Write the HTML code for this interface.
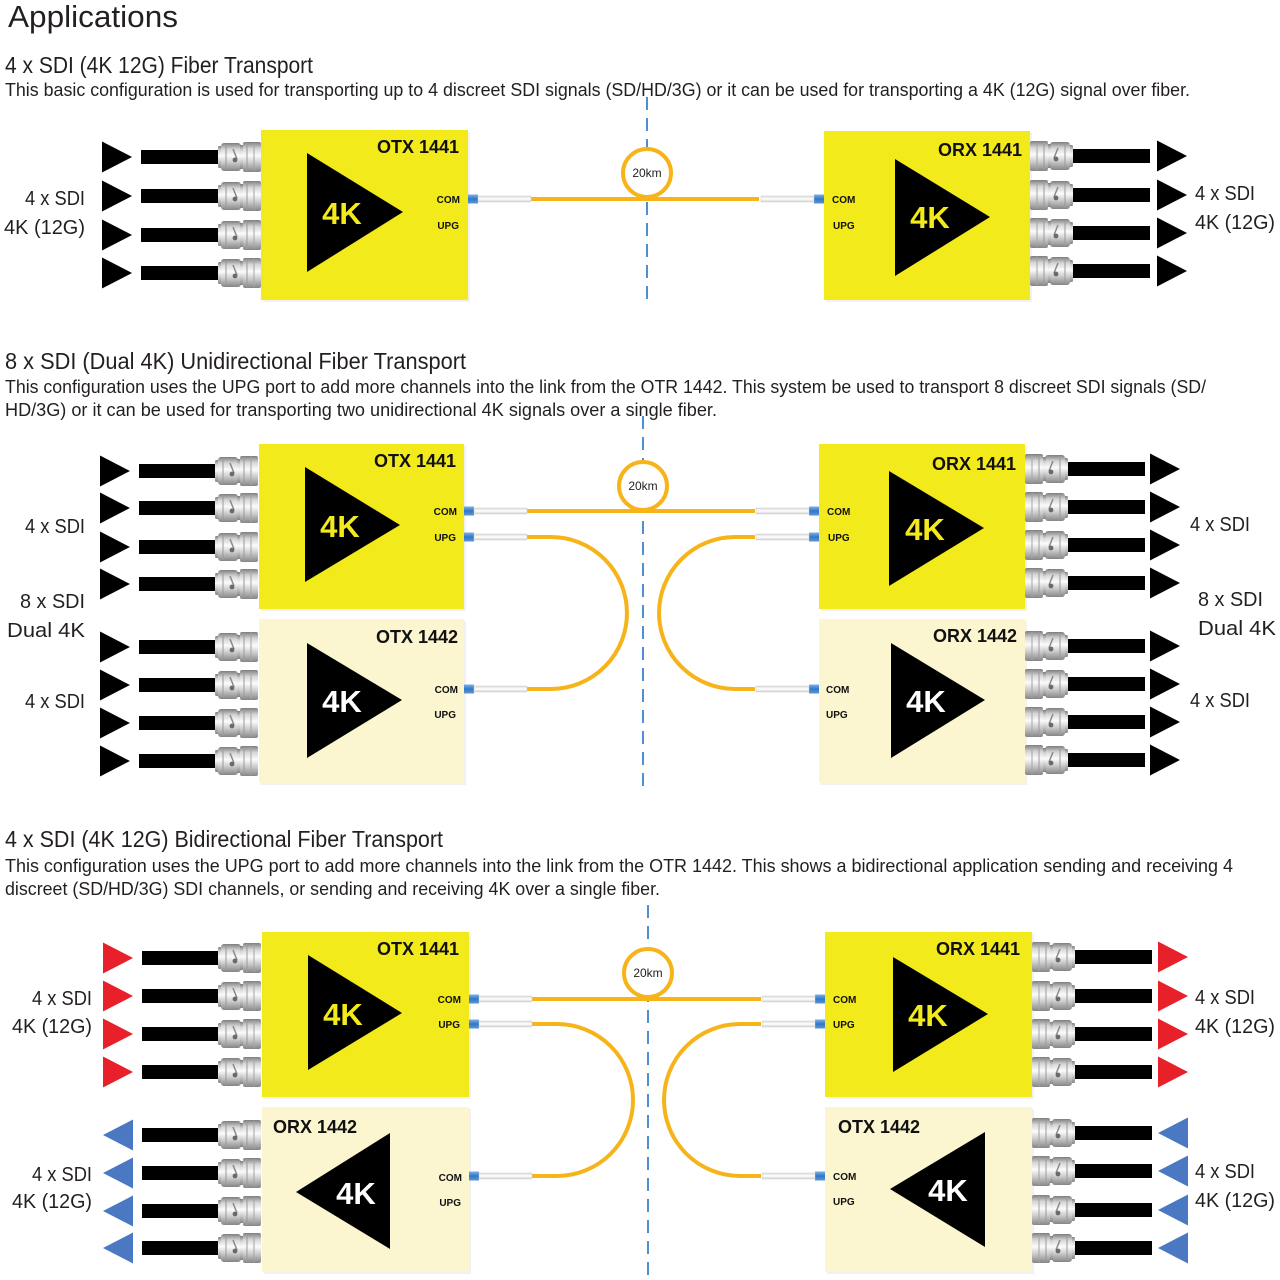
<!DOCTYPE html>
<html>
<head>
<meta charset="utf-8">
<style>
html,body{margin:0;padding:0;background:#fff;}
svg{display:block;}
text{font-family:"Liberation Sans",Arial,sans-serif;fill:#231f20;}
.h0{font-size:31px;}
.h1{font-size:23px;}
.d{font-size:18px;}
.lb{font-size:20px;}
.bx{font-size:18px;font-weight:bold;fill:#111;}
.pt{font-size:10px;font-weight:bold;fill:#111;}
.k{font-size:31px;font-weight:bold;text-anchor:middle;}
.ky{fill:#f3ea1c;}
.kw{fill:#ffffff;}
.km{font-size:12px;text-anchor:middle;fill:#222;}
</style>
</head>
<body>
<svg width="1280" height="1280" viewBox="0 0 1280 1280" xmlns="http://www.w3.org/2000/svg">
<defs>
  <linearGradient id="met" x1="0" y1="0" x2="0" y2="1">
    <stop offset="0" stop-color="#7d7d7d"/>
    <stop offset="0.22" stop-color="#d6d6d6"/>
    <stop offset="0.45" stop-color="#fbfbfb"/>
    <stop offset="0.7" stop-color="#cacaca"/>
    <stop offset="1" stop-color="#858585"/>
  </linearGradient>
  <linearGradient id="blu" x1="0" y1="0" x2="0" y2="1">
    <stop offset="0" stop-color="#7fb0e4"/>
    <stop offset="0.5" stop-color="#2f78c8"/>
    <stop offset="1" stop-color="#5d97d6"/>
  </linearGradient>
  <linearGradient id="wht" x1="0" y1="0" x2="0" y2="1">
    <stop offset="0" stop-color="#d8d8d8"/>
    <stop offset="0.5" stop-color="#ffffff"/>
    <stop offset="1" stop-color="#cfcfcf"/>
  </linearGradient>
  <g id="bnc">
    <rect x="0" y="-11" width="4" height="22" rx="1.5" fill="url(#met)"/>
    <rect x="3" y="-14" width="20" height="28" rx="3" fill="url(#met)"/>
    <rect x="22" y="-12" width="4" height="24" fill="url(#met)"/>
    <rect x="25" y="-15" width="18" height="30" rx="2" fill="url(#met)"/>
    <line x1="8" y1="-13" x2="8" y2="13" stroke="#9a9a9a" stroke-width="1"/>
    <line x1="29" y1="-14" x2="29" y2="14" stroke="#9a9a9a" stroke-width="1"/>
    <line x1="36" y1="-14" x2="36" y2="14" stroke="#a5a5a5" stroke-width="1"/>
    <line x1="15" y1="-8" x2="19" y2="2" stroke="#8a8a8a" stroke-width="1.5"/>
    <circle cx="17" cy="3" r="2.4" fill="#6a6a6a"/>
  </g>
  <g id="fcL">
    <rect x="0" y="-4.5" width="10" height="9" fill="url(#blu)"/>
    <rect x="10" y="-3" width="53" height="6" fill="url(#wht)" stroke="#d0d0d0" stroke-width="0.5"/>
  </g>
  <polygon id="triR" points="0,-15.5 30,0 0,15.5" fill="#000"/>
</defs>

<!-- ============ HEADINGS ============ -->
<text class="h0" x="8" y="27" textLength="170" lengthAdjust="spacingAndGlyphs">Applications</text>
<text class="h1" x="5" y="73" textLength="308" lengthAdjust="spacingAndGlyphs">4 x SDI (4K 12G) Fiber Transport</text>
<text class="d" x="5" y="96" textLength="1185" lengthAdjust="spacingAndGlyphs">This basic configuration is used for transporting up to 4 discreet SDI signals (SD/HD/3G) or it can be used for transporting a 4K (12G) signal over fiber.</text>

<text class="h1" x="5" y="369" textLength="461" lengthAdjust="spacingAndGlyphs">8 x SDI (Dual 4K) Unidirectional Fiber Transport</text>
<text class="d" x="5" y="393" textLength="1201" lengthAdjust="spacingAndGlyphs">This configuration uses the UPG port to add more channels into the link from the OTR 1442. This system be used to transport 8 discreet SDI signals (SD/</text>
<text class="d" x="5" y="416" textLength="712" lengthAdjust="spacingAndGlyphs">HD/3G) or it can be used for transporting two unidirectional 4K signals over a single fiber.</text>

<text class="h1" x="5" y="847" textLength="438" lengthAdjust="spacingAndGlyphs">4 x SDI (4K 12G) Bidirectional Fiber Transport</text>
<text class="d" x="5" y="872" textLength="1228" lengthAdjust="spacingAndGlyphs">This configuration uses the UPG port to add more channels into the link from the OTR 1442. This shows a bidirectional application sending and receiving 4</text>
<text class="d" x="5" y="895" textLength="655" lengthAdjust="spacingAndGlyphs">discreet (SD/HD/3G) SDI channels, or sending and receiving 4K over a single fiber.</text>

<!-- ============ DASHED CENTER LINES ============ -->
<line x1="647" y1="97" x2="647" y2="306" stroke="#4d8fd2" stroke-width="2" stroke-dasharray="13,8"/>
<line x1="643" y1="416" x2="643" y2="792" stroke="#4d8fd2" stroke-width="2" stroke-dasharray="13,8"/>
<line x1="648" y1="905" x2="648" y2="1278" stroke="#4d8fd2" stroke-width="2" stroke-dasharray="13,8"/>

<!-- ============ SECTION 1 ============ -->
<rect x="263" y="132" width="207" height="170" fill="#f1f1f1"/>
<rect x="261" y="130" width="207" height="170" fill="#f3ea1c"/>
<rect x="826" y="133" width="206" height="169" fill="#f1f1f1"/>
<rect x="824" y="131" width="206" height="169" fill="#f3ea1c"/>
<polygon points="307,153 403,212 307,272" fill="#000"/>
<text class="k ky" x="342" y="224">4K</text>
<polygon points="895,159 990,217 895,276" fill="#000"/>
<text class="k ky" x="930" y="228">4K</text>
<text class="bx" x="459" y="153" text-anchor="end">OTX 1441</text>
<text class="pt" x="460" y="203" text-anchor="end">COM</text>
<text class="pt" x="459" y="229" text-anchor="end">UPG</text>
<text class="bx" x="1022" y="156" text-anchor="end">ORX 1441</text>
<text class="pt" x="832" y="203">COM</text>
<text class="pt" x="833" y="229">UPG</text>

<g>
  <use href="#triR" x="102" y="157"/><rect x="141" y="150" width="77" height="14" fill="#000"/><use href="#bnc" x="218" y="157"/>
  <use href="#triR" x="102" y="196"/><rect x="141" y="189" width="77" height="14" fill="#000"/><use href="#bnc" x="218" y="196"/>
  <use href="#triR" x="102" y="235"/><rect x="141" y="228" width="77" height="14" fill="#000"/><use href="#bnc" x="218" y="235"/>
  <use href="#triR" x="102" y="273"/><rect x="141" y="266" width="77" height="14" fill="#000"/><use href="#bnc" x="218" y="273"/>
</g>
<g>
  <use href="#bnc" transform="translate(1073,156) scale(-1,1)"/><rect x="1073" y="149" width="77" height="14" fill="#000"/><use href="#triR" x="1157" y="156"/>
  <use href="#bnc" transform="translate(1073,195) scale(-1,1)"/><rect x="1073" y="188" width="77" height="14" fill="#000"/><use href="#triR" x="1157" y="195"/>
  <use href="#bnc" transform="translate(1073,233) scale(-1,1)"/><rect x="1073" y="226" width="77" height="14" fill="#000"/><use href="#triR" x="1157" y="233"/>
  <use href="#bnc" transform="translate(1073,271) scale(-1,1)"/><rect x="1073" y="264" width="77" height="14" fill="#000"/><use href="#triR" x="1157" y="271"/>
</g>
<text class="lb" x="85" y="205" text-anchor="end" textLength="60" lengthAdjust="spacingAndGlyphs">4 x SDI</text>
<text class="lb" x="85" y="234" text-anchor="end" textLength="81" lengthAdjust="spacingAndGlyphs">4K (12G)</text>
<text class="lb" x="1195" y="200" textLength="60" lengthAdjust="spacingAndGlyphs">4 x SDI</text>
<text class="lb" x="1195" y="229" textLength="80" lengthAdjust="spacingAndGlyphs">4K (12G)</text>

<circle cx="647" cy="173" r="24" fill="#fff" stroke="#f6b41a" stroke-width="4"/>
<text class="km" x="647" y="177">20km</text>
<line x1="530" y1="199" x2="759" y2="199" stroke="#f6b41a" stroke-width="4"/>
<use href="#fcL" x="468" y="199"/>
<use href="#fcL" transform="translate(824,199) scale(-1,1)"/>

<!-- ============ SECTION 2 ============ -->
<rect x="261" y="446" width="205" height="165" fill="#f1f1f1"/>
<rect x="259" y="444" width="205" height="165" fill="#f3ea1c"/>
<rect x="261" y="621" width="205" height="164" fill="#f1f1f1"/>
<rect x="259" y="619" width="205" height="164" fill="#fbf6cf"/>
<rect x="821" y="446" width="206" height="165" fill="#f1f1f1"/>
<rect x="819" y="444" width="206" height="165" fill="#f3ea1c"/>
<rect x="821" y="621" width="206" height="164" fill="#f1f1f1"/>
<rect x="819" y="619" width="206" height="164" fill="#fbf6cf"/>

<polygon points="305,467 400,525 305,582" fill="#000"/>
<text class="k ky" x="340" y="537">4K</text>
<polygon points="307,643 402,700 307,758" fill="#000"/>
<text class="k kw" x="342" y="712">4K</text>
<polygon points="889,471 984,528 889,586" fill="#000"/>
<text class="k ky" x="925" y="540">4K</text>
<polygon points="891,643 985,700 891,758" fill="#000"/>
<text class="k kw" x="926" y="712">4K</text>

<text class="bx" x="456" y="467" text-anchor="end">OTX 1441</text>
<text class="pt" x="457" y="515" text-anchor="end">COM</text>
<text class="pt" x="456" y="541" text-anchor="end">UPG</text>
<text class="bx" x="458" y="643" text-anchor="end">OTX 1442</text>
<text class="pt" x="458" y="693" text-anchor="end">COM</text>
<text class="pt" x="456" y="718" text-anchor="end">UPG</text>
<text class="bx" x="1016" y="470" text-anchor="end">ORX 1441</text>
<text class="pt" x="827" y="515">COM</text>
<text class="pt" x="828" y="541">UPG</text>
<text class="bx" x="1017" y="642" text-anchor="end">ORX 1442</text>
<text class="pt" x="826" y="693">COM</text>
<text class="pt" x="826" y="718">UPG</text>

<g>
  <use href="#triR" x="100" y="471"/><rect x="139" y="464" width="76" height="14" fill="#000"/><use href="#bnc" x="215" y="471"/>
  <use href="#triR" x="100" y="508"/><rect x="139" y="501" width="76" height="14" fill="#000"/><use href="#bnc" x="215" y="508"/>
  <use href="#triR" x="100" y="547"/><rect x="139" y="540" width="76" height="14" fill="#000"/><use href="#bnc" x="215" y="547"/>
  <use href="#triR" x="100" y="584"/><rect x="139" y="577" width="76" height="14" fill="#000"/><use href="#bnc" x="215" y="584"/>
  <use href="#triR" x="100" y="647"/><rect x="139" y="640" width="76" height="14" fill="#000"/><use href="#bnc" x="215" y="647"/>
  <use href="#triR" x="100" y="685"/><rect x="139" y="678" width="76" height="14" fill="#000"/><use href="#bnc" x="215" y="685"/>
  <use href="#triR" x="100" y="723"/><rect x="139" y="716" width="76" height="14" fill="#000"/><use href="#bnc" x="215" y="723"/>
  <use href="#triR" x="100" y="761"/><rect x="139" y="754" width="76" height="14" fill="#000"/><use href="#bnc" x="215" y="761"/>
</g>
<g>
  <use href="#bnc" transform="translate(1068,469) scale(-1,1)"/><rect x="1068" y="462" width="77" height="14" fill="#000"/><use href="#triR" x="1150" y="469"/>
  <use href="#bnc" transform="translate(1068,507) scale(-1,1)"/><rect x="1068" y="500" width="77" height="14" fill="#000"/><use href="#triR" x="1150" y="507"/>
  <use href="#bnc" transform="translate(1068,545) scale(-1,1)"/><rect x="1068" y="538" width="77" height="14" fill="#000"/><use href="#triR" x="1150" y="545"/>
  <use href="#bnc" transform="translate(1068,583) scale(-1,1)"/><rect x="1068" y="576" width="77" height="14" fill="#000"/><use href="#triR" x="1150" y="583"/>
  <use href="#bnc" transform="translate(1068,646) scale(-1,1)"/><rect x="1068" y="639" width="77" height="14" fill="#000"/><use href="#triR" x="1150" y="646"/>
  <use href="#bnc" transform="translate(1068,684) scale(-1,1)"/><rect x="1068" y="677" width="77" height="14" fill="#000"/><use href="#triR" x="1150" y="684"/>
  <use href="#bnc" transform="translate(1068,722) scale(-1,1)"/><rect x="1068" y="715" width="77" height="14" fill="#000"/><use href="#triR" x="1150" y="722"/>
  <use href="#bnc" transform="translate(1068,760) scale(-1,1)"/><rect x="1068" y="753" width="77" height="14" fill="#000"/><use href="#triR" x="1150" y="760"/>
</g>
<text class="lb" x="85" y="533" text-anchor="end" textLength="60" lengthAdjust="spacingAndGlyphs">4 x SDI</text>
<text class="lb" x="85" y="608" text-anchor="end" textLength="65" lengthAdjust="spacingAndGlyphs">8 x SDI</text>
<text class="lb" x="85" y="637" text-anchor="end" textLength="78" lengthAdjust="spacingAndGlyphs">Dual 4K</text>
<text class="lb" x="85" y="708" text-anchor="end" textLength="60" lengthAdjust="spacingAndGlyphs">4 x SDI</text>
<text class="lb" x="1190" y="531" textLength="60" lengthAdjust="spacingAndGlyphs">4 x SDI</text>
<text class="lb" x="1198" y="606" textLength="65" lengthAdjust="spacingAndGlyphs">8 x SDI</text>
<text class="lb" x="1198" y="635" textLength="78" lengthAdjust="spacingAndGlyphs">Dual 4K</text>
<text class="lb" x="1190" y="707" textLength="60" lengthAdjust="spacingAndGlyphs">4 x SDI</text>

<circle cx="643" cy="486" r="24" fill="#fff" stroke="#f6b41a" stroke-width="4"/>
<text class="km" x="643" y="490">20km</text>
<line x1="526" y1="511" x2="755" y2="511" stroke="#f6b41a" stroke-width="4"/>
<path d="M526,537 H551 A76,76 0 0 1 551,689 H526" fill="none" stroke="#f6b41a" stroke-width="4"/>
<path d="M755,537 H735 A76,76 0 0 0 735,689 H755" fill="none" stroke="#f6b41a" stroke-width="4"/>
<use href="#fcL" x="464" y="511"/>
<use href="#fcL" x="464" y="537"/>
<use href="#fcL" x="464" y="689"/>
<use href="#fcL" transform="translate(819,511) scale(-1,1)"/>
<use href="#fcL" transform="translate(819,537) scale(-1,1)"/>
<use href="#fcL" transform="translate(819,689) scale(-1,1)"/>

<!-- ============ SECTION 3 ============ -->
<rect x="264" y="934" width="207" height="165" fill="#f1f1f1"/>
<rect x="262" y="932" width="207" height="165" fill="#f3ea1c"/>
<rect x="264" y="1109" width="207" height="165" fill="#f1f1f1"/>
<rect x="262" y="1107" width="207" height="165" fill="#fbf6cf"/>
<rect x="827" y="934" width="207" height="165" fill="#f1f1f1"/>
<rect x="825" y="932" width="207" height="165" fill="#f3ea1c"/>
<rect x="827" y="1109" width="207" height="165" fill="#f1f1f1"/>
<rect x="825" y="1107" width="207" height="165" fill="#fbf6cf"/>

<polygon points="308,955 402,1013 308,1070" fill="#000"/>
<text class="k ky" x="343" y="1025">4K</text>
<polygon points="296,1192 390,1133 390,1249" fill="#000"/>
<text class="k kw" x="356" y="1204">4K</text>
<polygon points="893,957 988,1014 893,1072" fill="#000"/>
<text class="k ky" x="928" y="1026">4K</text>
<polygon points="890,1189 985,1132 985,1247" fill="#000"/>
<text class="k kw" x="948" y="1201">4K</text>

<text class="bx" x="459" y="955" text-anchor="end">OTX 1441</text>
<text class="pt" x="461" y="1003" text-anchor="end">COM</text>
<text class="pt" x="460" y="1028" text-anchor="end">UPG</text>
<text class="bx" x="273" y="1133">ORX 1442</text>
<text class="pt" x="462" y="1181" text-anchor="end">COM</text>
<text class="pt" x="461" y="1206" text-anchor="end">UPG</text>
<text class="bx" x="1020" y="955" text-anchor="end">ORX 1441</text>
<text class="pt" x="833" y="1003">COM</text>
<text class="pt" x="833" y="1028">UPG</text>
<text class="bx" x="838" y="1133">OTX 1442</text>
<text class="pt" x="833" y="1180">COM</text>
<text class="pt" x="833" y="1205">UPG</text>

<polygon points="103,942.5 133,958 103,973.5" fill="#e8202a"/>
<polygon points="103,980.5 133,996 103,1011.5" fill="#e8202a"/>
<polygon points="103,1018.5 133,1034 103,1049.5" fill="#e8202a"/>
<polygon points="103,1056.5 133,1072 103,1087.5" fill="#e8202a"/>
<polygon points="133,1119.5 103,1135 133,1150.5" fill="#4a78c2"/>
<polygon points="133,1157.5 103,1173 133,1188.5" fill="#4a78c2"/>
<polygon points="133,1195.5 103,1211 133,1226.5" fill="#4a78c2"/>
<polygon points="133,1232.5 103,1248 133,1263.5" fill="#4a78c2"/>
<g>
  <rect x="142" y="951" width="76" height="14" fill="#000"/><use href="#bnc" x="218" y="958"/>
  <rect x="142" y="989" width="76" height="14" fill="#000"/><use href="#bnc" x="218" y="996"/>
  <rect x="142" y="1027" width="76" height="14" fill="#000"/><use href="#bnc" x="218" y="1034"/>
  <rect x="142" y="1065" width="76" height="14" fill="#000"/><use href="#bnc" x="218" y="1072"/>
  <rect x="142" y="1128" width="76" height="14" fill="#000"/><use href="#bnc" x="218" y="1135"/>
  <rect x="142" y="1166" width="76" height="14" fill="#000"/><use href="#bnc" x="218" y="1173"/>
  <rect x="142" y="1204" width="76" height="14" fill="#000"/><use href="#bnc" x="218" y="1211"/>
  <rect x="142" y="1241" width="76" height="14" fill="#000"/><use href="#bnc" x="218" y="1248"/>
</g>
<g>
  <use href="#bnc" transform="translate(1075,957) scale(-1,1)"/><rect x="1075" y="950" width="77" height="14" fill="#000"/>
  <use href="#bnc" transform="translate(1075,996) scale(-1,1)"/><rect x="1075" y="989" width="77" height="14" fill="#000"/>
  <use href="#bnc" transform="translate(1075,1034) scale(-1,1)"/><rect x="1075" y="1027" width="77" height="14" fill="#000"/>
  <use href="#bnc" transform="translate(1075,1072) scale(-1,1)"/><rect x="1075" y="1065" width="77" height="14" fill="#000"/>
  <use href="#bnc" transform="translate(1075,1133) scale(-1,1)"/><rect x="1075" y="1126" width="77" height="14" fill="#000"/>
  <use href="#bnc" transform="translate(1075,1171) scale(-1,1)"/><rect x="1075" y="1164" width="77" height="14" fill="#000"/>
  <use href="#bnc" transform="translate(1075,1210) scale(-1,1)"/><rect x="1075" y="1203" width="77" height="14" fill="#000"/>
  <use href="#bnc" transform="translate(1075,1248) scale(-1,1)"/><rect x="1075" y="1241" width="77" height="14" fill="#000"/>
</g>
<polygon points="1158,941.5 1188,957 1158,972.5" fill="#e8202a"/>
<polygon points="1158,980.5 1188,996 1158,1011.5" fill="#e8202a"/>
<polygon points="1158,1018.5 1188,1034 1158,1049.5" fill="#e8202a"/>
<polygon points="1158,1056.5 1188,1072 1158,1087.5" fill="#e8202a"/>
<polygon points="1188,1117.5 1158,1133 1188,1148.5" fill="#4a78c2"/>
<polygon points="1188,1155.5 1158,1171 1188,1186.5" fill="#4a78c2"/>
<polygon points="1188,1194.5 1158,1210 1188,1225.5" fill="#4a78c2"/>
<polygon points="1188,1232.5 1158,1248 1188,1263.5" fill="#4a78c2"/>

<text class="lb" x="92" y="1005" text-anchor="end" textLength="60" lengthAdjust="spacingAndGlyphs">4 x SDI</text>
<text class="lb" x="92" y="1033" text-anchor="end" textLength="80" lengthAdjust="spacingAndGlyphs">4K (12G)</text>
<text class="lb" x="92" y="1181" text-anchor="end" textLength="60" lengthAdjust="spacingAndGlyphs">4 x SDI</text>
<text class="lb" x="92" y="1208" text-anchor="end" textLength="80" lengthAdjust="spacingAndGlyphs">4K (12G)</text>
<text class="lb" x="1195" y="1004" textLength="60" lengthAdjust="spacingAndGlyphs">4 x SDI</text>
<text class="lb" x="1195" y="1033" textLength="80" lengthAdjust="spacingAndGlyphs">4K (12G)</text>
<text class="lb" x="1195" y="1178" textLength="60" lengthAdjust="spacingAndGlyphs">4 x SDI</text>
<text class="lb" x="1195" y="1207" textLength="80" lengthAdjust="spacingAndGlyphs">4K (12G)</text>

<circle cx="648" cy="973" r="24" fill="#fff" stroke="#f6b41a" stroke-width="4"/>
<text class="km" x="648" y="977">20km</text>
<line x1="531" y1="999" x2="761" y2="999" stroke="#f6b41a" stroke-width="4"/>
<path d="M531,1024 H557 A76,76 0 0 1 557,1176 H531" fill="none" stroke="#f6b41a" stroke-width="4"/>
<path d="M761,1024 H740 A76,76 0 0 0 740,1176 H761" fill="none" stroke="#f6b41a" stroke-width="4"/>
<use href="#fcL" x="469" y="999"/>
<use href="#fcL" x="469" y="1024"/>
<use href="#fcL" x="469" y="1176"/>
<use href="#fcL" transform="translate(825,999) scale(-1,1)"/>
<use href="#fcL" transform="translate(825,1024) scale(-1,1)"/>
<use href="#fcL" transform="translate(825,1176) scale(-1,1)"/>
</svg>
</body>
</html>
